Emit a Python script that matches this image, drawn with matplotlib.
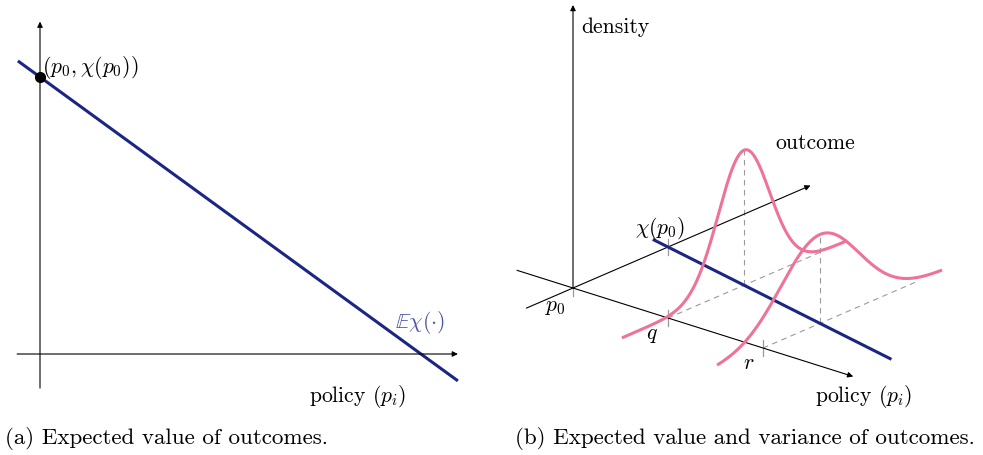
import numpy as np
import matplotlib
matplotlib.use('Agg')
import matplotlib.pyplot as plt

plt.rcParams['font.family'] = 'serif'
plt.rcParams['font.serif'] = ['cmr10']
plt.rcParams['mathtext.fontset'] = 'cm'
plt.rcParams['axes.unicode_minus'] = False

# Panel (a): expected outcome as a linear function of policy
ev_policy = np.array([-0.058, 1.097])
ev_value = np.array([1.058, -0.097])
p0_point = (0.0, 1.0)

# Panel (b): outcome densities at two policies q and r
chi_p0 = 1.0
ev_slope = -0.2
dens_policy = [1.0, 2.0]        # q, r
dens_mean = [0.8, 0.6]          # expected outcome at q, r
dens_sd = [0.27, 0.41]
dens_scale = 91.4
outcome_range = (-0.47, 1.87)
line_policy = (-0.2, 2.94)

NAVY = '#1b2584'
PINK = '#ef7397'
LIGHT_NAVY = '#4c56a6'
GREY = '#9a9a9a'
FS = 15.6
CAP_FS = 16.6

fig = plt.figure(figsize=(9.83, 4.55), dpi=100)


def arrow(ax, start, end):
    ax.annotate('', xy=end, xytext=start,
                arrowprops=dict(arrowstyle='-|>', lw=0.8, color='black',
                                mutation_scale=8, shrinkA=0, shrinkB=0),
                annotation_clip=False)


# (a) Expected value of outcomes
ax1 = fig.add_axes([0, 0, 480 / 983, 1])
ax1.set_xlim(-0.105, 1.155)
ax1.set_ylim(-0.3646, 1.278)
ax1.axis('off')

arrow(ax1, (-0.06, 0), (1.097, 0))
arrow(ax1, (0, -0.123), (0, 1.2))
ax1.plot(ev_policy, ev_value, color=NAVY, lw=2.2, solid_capstyle='butt')
ax1.plot(*p0_point, 'o', color='black', ms=7, zorder=5)
ax1.text(0.006, 1.033, r'$(p_0, \chi(p_0))$', fontsize=FS, ha='left', va='center')
ax1.text(0.933, 0.112, r'$\mathbb{E}\chi(\cdot)$', fontsize=FS, color=LIGHT_NAVY,
         ha='left', va='center')
ax1.text(0.707, -0.155, r'policy $(p_i)$', fontsize=FS, ha='left', va='center')

# (b) Expected value and variance of outcomes (oblique 3D sketch)
ax2 = fig.add_axes([500 / 983, 0, 483 / 983, 1])
ax2.set_xlim(-73, 410)
ax2.set_ylim(-167, 288)
ax2.axis('off')

P_VEC = np.array([95.0, -30.0])
O_VEC = np.array([95.0, 41.0])


def proj(p, o, d=0.0):
    p = np.asarray(p, dtype=float)
    o = np.asarray(o, dtype=float)
    d = np.asarray(d, dtype=float)
    return p * P_VEC[0] + o * O_VEC[0], p * P_VEC[1] + o * O_VEC[1] + d


# axes
arrow(ax2, proj(0, 0, 0), proj(0, 0, 283))
arrow(ax2, proj(0, -0.49), proj(0, 2.5))
arrow(ax2, proj(-0.59, 0), proj(2.95, 0))

# tick marks
tick_kw = dict(color=GREY, lw=0.9)
x, y = proj(0, 0)
ax2.plot([x, x], [y, y - 8], **tick_kw)
x, y = proj(0, chi_p0)
ax2.plot([x, x], [y - 8, y + 8], **tick_kw)
for p in dens_policy:
    x, y = proj(p, 0)
    ax2.plot([x, x], [y - 8, y + 8], **tick_kw)

# dashed guides along the outcome direction and down from each peak
for p, m, s in zip(dens_policy, dens_mean, dens_sd):
    ax2.plot(*proj([p, p], [0, 1.6]), color=GREY, lw=0.8, ls=(0, (5, 4)))
    peak = dens_scale / (s * np.sqrt(2 * np.pi))
    ax2.plot(*proj([p, p], [m, m], [0, peak]), color=GREY, lw=0.8, ls=(0, (5, 4)))

# expected outcome line in the policy/outcome plane
lp = np.array(line_policy)
ax2.plot(*proj(lp, chi_p0 + ev_slope * lp), color=NAVY, lw=2.2,
         solid_capstyle='butt', zorder=3)

# density curves
o_grid = np.linspace(*outcome_range, 300)
for p, m, s in zip(dens_policy, dens_mean, dens_sd):
    dens = dens_scale / (s * np.sqrt(2 * np.pi)) * np.exp(-(o_grid - m) ** 2 / (2 * s ** 2))
    ax2.plot(*proj(np.full_like(o_grid, p), o_grid, dens), color=PINK, lw=2.2, zorder=4)

ax2.text(8, 261, 'density', fontsize=FS, ha='left', va='center')
ax2.text(202, 145, 'outcome', fontsize=FS, ha='left', va='center')
ax2.text(87, 60, r'$\chi(p_0)$', fontsize=FS, ha='center', va='center')
ax2.text(-18, -19, r'$p_0$', fontsize=FS, ha='center', va='center')
ax2.text(79, -47, r'$q$', fontsize=FS, ha='center', va='center')
ax2.text(176, -75, r'$r$', fontsize=FS, ha='center', va='center')
ax2.text(242, -109, r'policy $(p_i)$', fontsize=FS, ha='left', va='center')

# captions
fig.text(5 / 983, 1 - 438 / 455, '(a) Expected value of outcomes.',
         fontsize=CAP_FS, ha='left', va='center')
fig.text(515 / 983, 1 - 438 / 455, '(b) Expected value and variance of outcomes.',
         fontsize=CAP_FS, ha='left', va='center')

fig.savefig('out.png', dpi=100)
